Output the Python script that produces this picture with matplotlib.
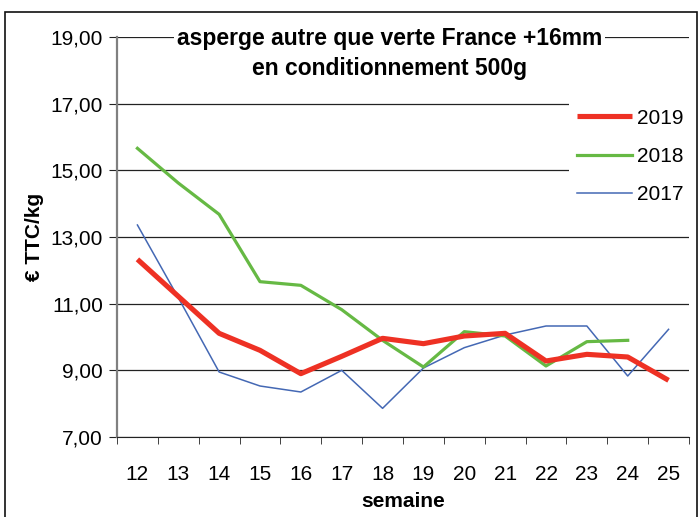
#!/usr/bin/env python3
"""Prix asperge autre que verte France +16mm, conditionnement 500g -> out.png"""
import matplotlib
matplotlib.use("Agg")
import matplotlib.pyplot as plt
from matplotlib.patches import Rectangle
from matplotlib.ticker import FixedLocator

plt.rcParams.update({"font.family": ["Liberation Sans", "DejaVu Sans"], "font.size": 15})

RED = "#ee3124"; GREEN = "#66b944"; BLUE = "#4468b4"

semaines = ["12", "13", "14", "15", "16", "17", "18", "19", "20", "21", "22", "23", "24", "25"]
prix_2019 = [12.33, 11.22, 10.11, 9.60, 8.90, 9.42, 9.96, 9.80, 10.03, 10.11, 9.28, 9.48, 9.40, 8.70]
prix_2018 = [15.66, 14.62, 13.68, 11.66, 11.55, 10.82, 9.90, 9.10, 10.16, 10.03, 9.13, 9.86, 9.90]
prix_2017 = [13.36, 11.18, 8.95, 8.53, 8.35, 9.00, 7.86, 9.07, 9.68, 10.06, 10.33, 10.33, 8.83, 10.23]
yticks = [7, 9, 11, 13, 15, 17, 19]

fig = plt.figure(figsize=(7, 5.17), dpi=100)
ax = fig.add_axes([117/700, 80/517, 572/700, 400/517])

x = range(len(semaines))
ax.plot(x, prix_2019, color=RED, lw=3.7, label="2019", zorder=5, solid_capstyle="butt")
ax.plot(range(len(prix_2018)), prix_2018, color=GREEN, lw=2.3, label="2018", zorder=4)
ax.plot(x, prix_2017, color=BLUE, lw=1.1, label="2017", zorder=3)

ax.set_xlim(-0.5, len(semaines) - 0.5); ax.set_ylim(7, 19)
ax.set_yticks(yticks)
ax.set_yticklabels([f"{v:.2f}".replace(".", ",") for v in yticks])
ax.set_xticks(list(x)); ax.set_xticklabels(semaines)
ax.xaxis.set_minor_locator(FixedLocator([i - 0.5 for i in range(len(semaines) + 1)]))
ax.tick_params(axis="x", which="major", length=0, pad=20)
ax.tick_params(axis="x", which="minor", length=5, color="#222222")
ax.tick_params(axis="y", length=6, color="#222222", pad=4)
ax.grid(axis="y", color="#222222", lw=0.9, zorder=0)
for s in ("top", "right"):
    ax.spines[s].set_visible(False)
ax.spines["left"].set_color("#808080"); ax.spines["left"].set_linewidth(1.6)
ax.spines["bottom"].set_color("#222222")

ax.set_xlabel("semaine", fontweight="bold", labelpad=6)
ax.set_ylabel("€ TTC/kg", fontweight="bold", labelpad=5)

ax.text(0.477, 1.024, "asperge autre que verte France +16mm\nen conditionnement 500g",
        transform=ax.transAxes, ha="center", va="top", fontsize=16.5, fontweight="bold",
        linespacing=1.35, bbox=dict(facecolor="white", edgecolor="none", pad=2),
        zorder=10)

leg = ax.legend(loc="upper left", bbox_to_anchor=(0.772, 0.8675), frameon=True,
                facecolor="white", edgecolor="none", framealpha=1, fancybox=False,
                handlelength=2.6, handletextpad=0.25, labelspacing=0.92, borderpad=0.4)
leg.set_zorder(10)

fig.patches.append(Rectangle((5/700, -0.01), 692/700, 1.01 - 12/517, transform=fig.transFigure,
                             fill=False, edgecolor="#111111", lw=1.2))

fig.savefig("out.png", dpi=100)
